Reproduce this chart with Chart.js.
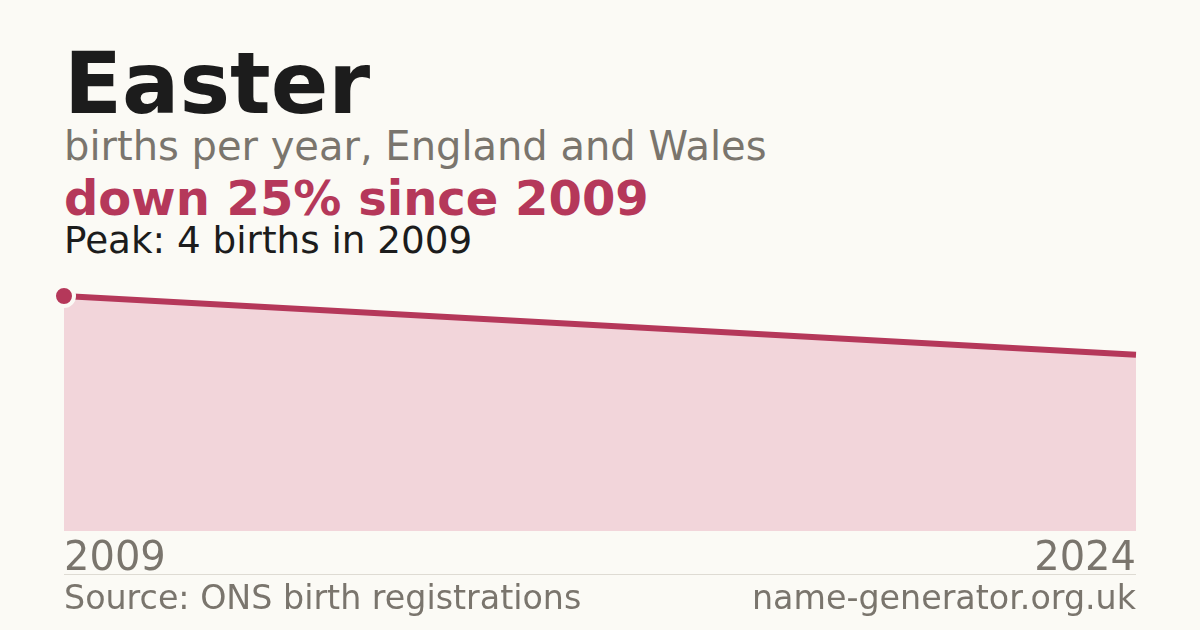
<!DOCTYPE html>
<html lang="en">
<head>
    <meta charset="UTF-8">
    <title>Easter births per year</title>
    <script src="https://cdn.jsdelivr.net/npm/chart.js@4.4.0/dist/chart.umd.min.js"></script>
    <style>
        body {
            margin: 0;
            width: 1200px;
            height: 630px;
            overflow: hidden;
            background: #fbfaf5;
            font-family: 'DejaVu Sans', sans-serif;
            position: relative;
        }

        .txt {
            position: absolute;
            left: 64px;
            line-height: 1;
            white-space: nowrap;
        }

        .title { top: 41px; font-size: 85px; font-weight: bold; color: #1c1c1c; }
        .subtitle { top: 126px; font-size: 40px; color: #7a756d; }
        .change { top: 174px; font-size: 48px; font-weight: bold; color: #b5385a; }
        .peak { top: 222px; font-size: 37.3px; color: #1c1c1c; }
        .source { top: 581px; font-size: 33.3px; color: #7a756d; }
        .site { top: 581px; left: auto; right: 64px; font-size: 33.3px; color: #7a756d; }

        .rule {
            position: absolute;
            left: 64px;
            top: 574px;
            width: 1072px;
            height: 1px;
            background: #dedbd3;
        }

        .chart-box {
            position: absolute;
            left: 0;
            top: 256px;
            width: 1200px;
            height: 333px;
        }
    </style>
</head>
<body>
    <div class="txt title">Easter</div>
    <div class="txt subtitle">births per year, England and Wales</div>
    <div class="txt change">down 25% since 2009</div>
    <div class="txt peak">Peak: 4 births in 2009</div>

    <div class="chart-box">
        <canvas id="birthsChart"></canvas>
    </div>

    <div class="rule"></div>
    <div class="txt source">Source: ONS birth registrations</div>
    <div class="txt site">name-generator.org.uk</div>

    <script>
        const years = ['2009', '2024'];
        const births = [4, 3];

        const peakValue = Math.max(...births);
        const red = '#b5385a';

        const ctx = document.getElementById('birthsChart').getContext('2d');
        new Chart(ctx, {
            type: 'line',
            data: {
                labels: years,
                datasets: [{
                    data: births,
                    borderColor: red,
                    backgroundColor: '#f2d5da',
                    borderWidth: 6,
                    borderCapStyle: 'butt',
                    fill: 'origin',
                    tension: 0,
                    clip: false,
                    // only the peak gets a dot
                    pointRadius: (c) => births[c.dataIndex] === peakValue ? 10 : 0,
                    pointBackgroundColor: red,
                    pointBorderColor: '#fbfaf5',
                    pointBorderWidth: 4,
                    pointHoverRadius: 0
                }]
            },
            options: {
                responsive: true,
                maintainAspectRatio: false,
                animation: false,
                layout: {
                    padding: { left: 64, right: 64, top: 40, bottom: 0 }
                },
                plugins: {
                    legend: { display: false },
                    tooltip: { enabled: false }
                },
                scales: {
                    x: {
                        grid: { display: false, drawTicks: false },
                        border: { display: false },
                        ticks: {
                            align: 'inner',
                            maxRotation: 0,
                            autoSkip: false,
                            padding: 5,
                            color: '#7a756d',
                            font: { family: 'DejaVu Sans', size: 40 }
                        }
                    },
                    y: {
                        display: false,
                        min: 0,
                        max: 4
                    }
                }
            }
        });
    </script>
</body>
</html>
